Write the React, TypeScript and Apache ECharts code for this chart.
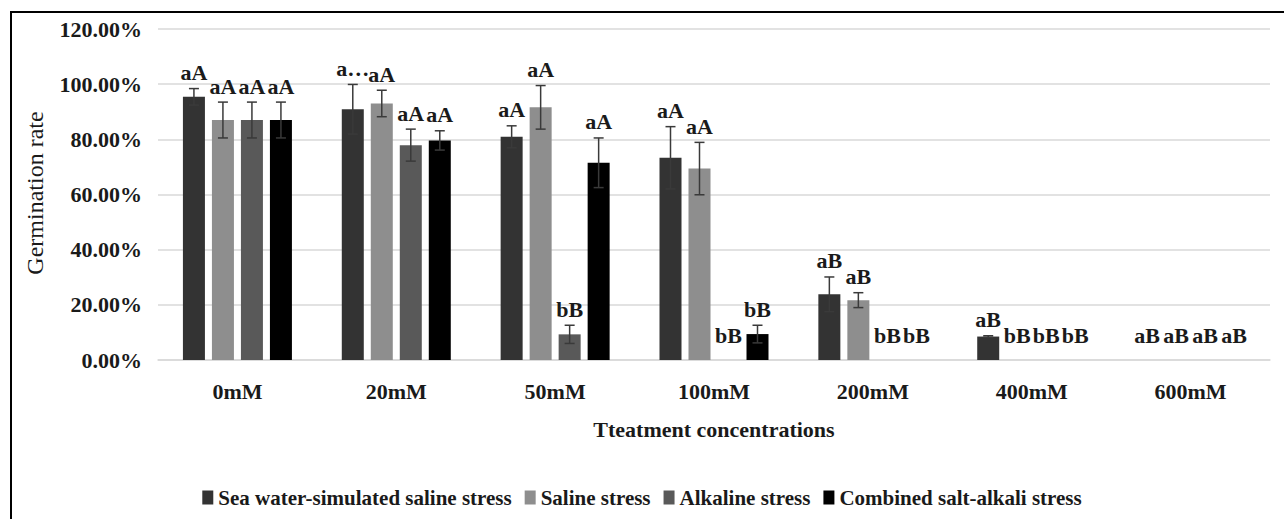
import React, { useEffect, useRef } from "react";
import * as echarts from "echarts";

const categories = ["0mM", "20mM", "50mM", "100mM", "200mM", "400mM", "600mM"];
const yTicks = [0, 20, 40, 60, 80, 100, 120];

const seriesNames = [
  "Sea water-simulated saline stress",
  "Saline stress",
  "Alkaline stress",
  "Combined salt-alkali stress",
];

const seaWater = [95.4, 90.9, 80.9, 73.3, 23.8, 8.5, 0];
const seaWaterErr = [3.0, 9.0, 4.0, 11.3, 6.3, 0.3, 0];
const saline = [87.0, 93.0, 91.6, 69.4, 21.7, 0, 0];
const salineErr = [6.5, 4.8, 7.9, 9.5, 2.7, 0, 0];
const alkaline = [87.0, 77.9, 9.3, 0, 0, 0, 0];
const alkalineErr = [6.5, 5.8, 3.3, 0, 0, 0, 0];
const combined = [87.0, 79.6, 71.5, 9.4, 0, 0, 0];
const combinedErr = [6.5, 3.5, 9.0, 3.2, 0, 0, 0];

const seaWaterLabels = ["aA", "a\u2026", "aA", "aA", "aB", "aB", "aB"];
const salineLabels = ["aA", "aA", "aA", "aA", "aB", "bB", "aB"];
const alkalineLabels = ["aA", "aA", "bB", "bB", "bB", "bB", "aB"];
const combinedLabels = ["aA", "aA", "aA", "bB", "bB", "bB", "aB"];

const colors = ["#333333", "#8e8e8e", "#595959", "#000000"];

const FONT = "Liberation Serif";
const BAR_W = 22;
const BAR_GAP = 7;

export default function App() {
  const ref = useRef<HTMLDivElement>(null);

  useEffect(() => {
    if (!ref.current) return;
    const chart = echarts.init(ref.current, undefined, { renderer: "svg" });

    const values = [seaWater, saline, alkaline, combined];
    const errs = [seaWaterErr, salineErr, alkalineErr, combinedErr];
    const labels = [seaWaterLabels, salineLabels, alkalineLabels, combinedLabels];

    const barSeries = values.map((vals, s) => ({
      name: seriesNames[s],
      type: "bar",
      data: vals,
      barWidth: BAR_W,
      barGap: `${(BAR_GAP / BAR_W) * 100}%`,
      itemStyle: { color: colors[s] },
      z: 2,
    }));

    const errSeries = values.map((vals, s) => ({
      name: `err${s}`,
      type: "custom",
      z: 5,
      clip: false,
      data: vals.map((v, i) => [i, v, errs[s][i]]),
      renderItem: (params: any, api: any) => {
        const i = params.dataIndex;
        const v = vals[i];
        const e = errs[s][i];
        const offset = (s - 1.5) * (BAR_W + BAR_GAP);
        const base = api.coord([i, v]);
        const x = base[0] + offset;
        const topY = api.coord([i, v + e])[1];
        const lowY = api.coord([i, v - e])[1];
        const children: any[] = [];
        const ls = { stroke: "#3a3a3a", lineWidth: 1.5 };
        if (e > 0) {
          children.push({ type: "line", shape: { x1: x, y1: topY, x2: x, y2: lowY }, style: ls });
          children.push({ type: "line", shape: { x1: x - 5, y1: topY, x2: x + 5, y2: topY }, style: ls });
          children.push({ type: "line", shape: { x1: x - 5, y1: lowY, x2: x + 5, y2: lowY }, style: ls });
        }
        children.push({
          type: "text",
          style: {
            text: labels[s][i],
            x,
            y: topY - (v === 0 ? 25 : 16),
            align: "center",
            verticalAlign: "middle",
            fontFamily: FONT,
            fontWeight: "bold",
            fontSize: 22,
            fill: "#1a1a1a",
          },
        });
        return { type: "group", children };
      },
    }));

    chart.setOption({
      animation: false,
      backgroundColor: "#ffffff",
      grid: { left: 158, right: 14, top: 29, bottom: 159 },
      legend: {
        data: seriesNames,
        top: 482,
        left: "center",
        itemWidth: 11,
        itemHeight: 14,
        itemGap: 13,
        icon: "rect",
        textStyle: { fontFamily: FONT, fontWeight: "bold", fontSize: 21, color: "#1a1a1a" },
      },
      xAxis: {
        type: "category",
        data: categories,
        axisLine: { lineStyle: { color: "#d9d9d9", width: 1.5 } },
        axisTick: { show: false },
        axisLabel: { margin: 20, fontFamily: FONT, fontWeight: "bold", fontSize: 22, color: "#1a1a1a" },
        name: "Tteatment concentrations",
        nameLocation: "middle",
        nameGap: 58,
        nameTextStyle: { fontFamily: FONT, fontWeight: "bold", fontSize: 22, color: "#1a1a1a" },
      },
      yAxis: {
        type: "value",
        min: yTicks[0],
        max: yTicks[yTicks.length - 1],
        interval: yTicks[1] - yTicks[0],
        axisLine: { show: false },
        axisTick: { show: false },
        splitLine: { lineStyle: { color: "#d9d9d9", width: 1.5 } },
        axisLabel: {
          margin: 16,
          fontFamily: FONT,
          fontWeight: "bold",
          fontSize: 22,
          color: "#1a1a1a",
          formatter: (v: number) => `${v.toFixed(2)}%`,
        },
      },
      graphic: [
        {
          type: "rect",
          shape: { x: 11, y: 12, width: 1400, height: 700 },
          style: { fill: "none", stroke: "#000", lineWidth: 2 },
          silent: true,
        },
        {
          type: "text",
          x: 35,
          y: 193,
          rotation: Math.PI / 2,
          style: {
            text: "Germination rate",
            align: "center",
            verticalAlign: "middle",
            fontFamily: FONT,
            fontSize: 24,
            fill: "#1a1a1a",
          },
        },
      ],
      series: [...barSeries, ...errSeries],
    });

    return () => chart.dispose();
  }, []);

  return (
    <div
      ref={ref}
      style={{ position: "fixed", left: 0, top: 0, width: 1284, height: 519, background: "#fff" }}
    />
  );
}
